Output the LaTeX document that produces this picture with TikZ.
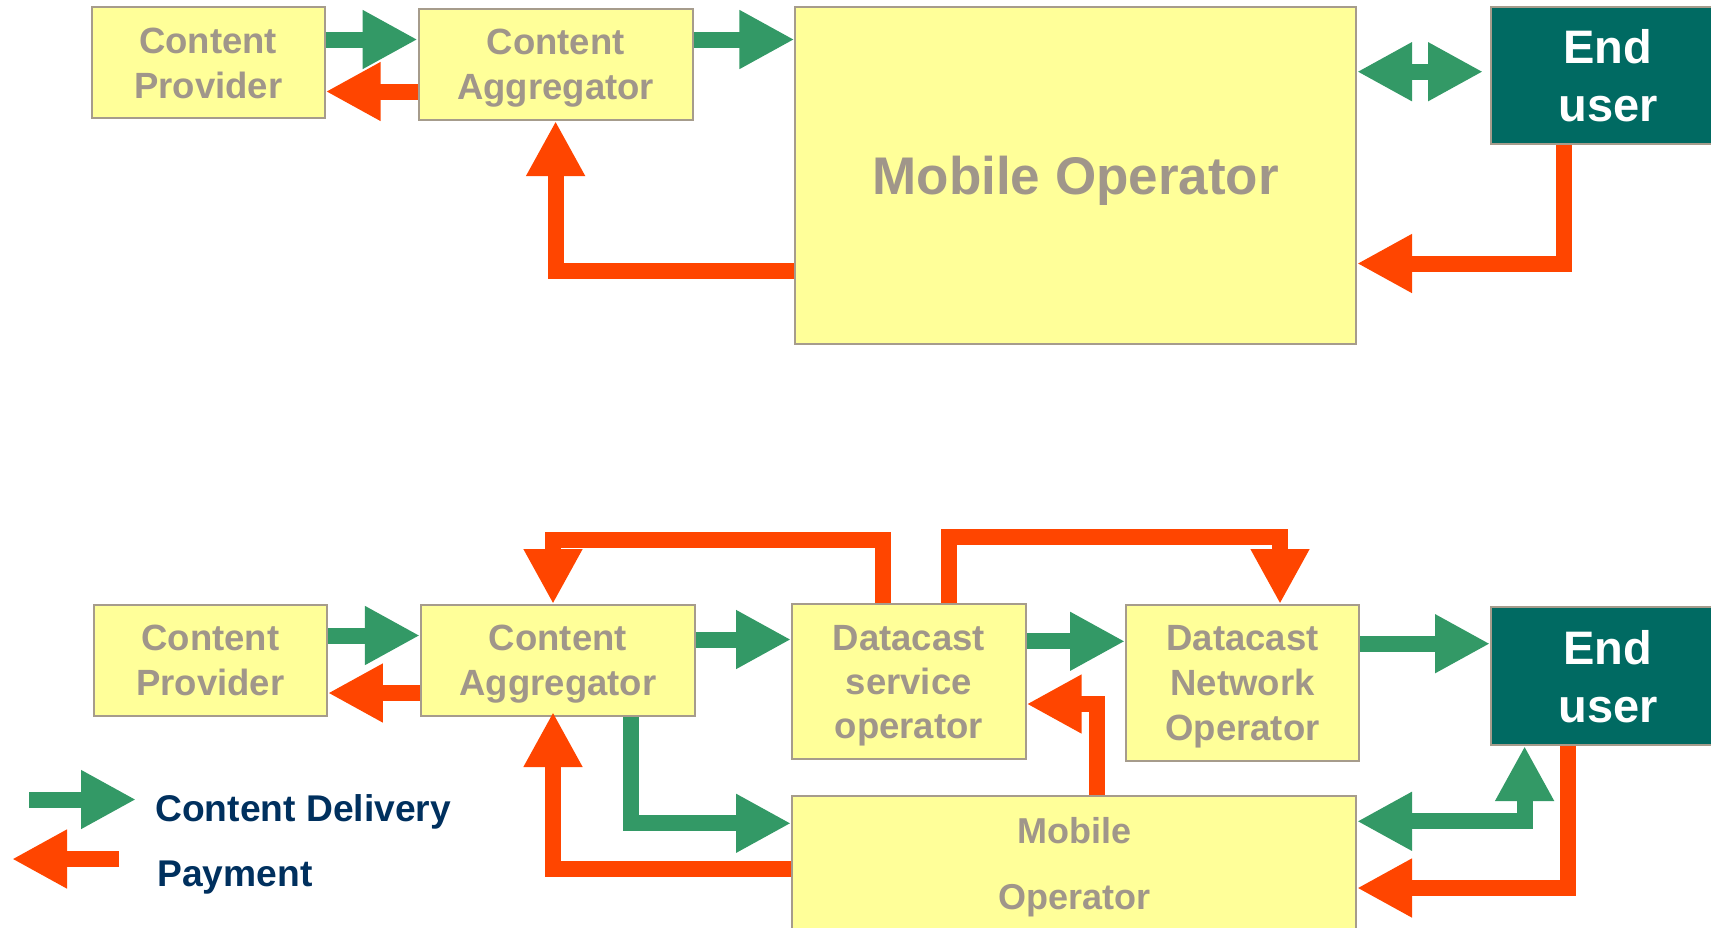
\documentclass[tikz,border=0pt]{standalone}
\usepackage{fontspec}
\setmainfont{Liberation Sans}
\usetikzlibrary{arrows.meta,calc}
\definecolor{boxfill}{HTML}{FFFF99}
\definecolor{boxline}{HTML}{A69C8C}
\definecolor{txt}{HTML}{A0968A}
\definecolor{dgreen}{HTML}{339966}
\definecolor{dred}{HTML}{FF4500}
\definecolor{eufill}{HTML}{006A62}
\definecolor{navy}{HTML}{00305E}
\tikzset{
  bigtri/.tip={Triangle[length=27.5pt,width=27.5pt]},
  box/.style={draw=boxline, line width=1pt, fill=boxfill, text=txt, align=center, inner sep=0pt,
    text depth=0pt, font=\bfseries\fontsize{18.25}{22.5}\selectfont},
  eubox/.style={draw=boxline, line width=1pt, fill=eufill, text=white, align=center, inner sep=0pt,
    text depth=0pt, font=\bfseries\fontsize{23.5}{29}\selectfont},
  deliv/.style={draw=dgreen, line width=8pt, -bigtri},
  pay/.style={draw=dred, line width=8pt, -bigtri},
  legtext/.style={text=navy, inner sep=0pt, font=\bfseries\fontsize{18.6}{22}\selectfont},
}
\begin{document}
\begin{tikzpicture}[x=0.5pt,y=-0.5pt]
\useasboundingbox (0,0) rectangle (1711,927);
\clip (0,0) rectangle (1711,927);

% ---------- top diagram ----------
\node[box, minimum width=116.5pt, minimum height=55.5pt] (cp1) at (208.2,62.8) {Content\\Provider};
\node[box, minimum width=137pt, minimum height=55.5pt] (ca1) at (555.6,64.5) {Content\\Aggregator};
\node[box, font=\bfseries\fontsize{26.5}{32}\selectfont, minimum width=280.3pt, minimum height=168.4pt] (mo1) at (1075.7,175.7) {Mobile Operator};
\node[eubox, minimum width=117pt, minimum height=68.4pt] (eu1) at (1608,75.7) {End\\user};

\draw[deliv] (cp1.east |- 0,39.5) -- (ca1.west |- 0,39.5);
\draw[pay] (ca1.west |- 0,91.5) -- (cp1.east |- 0,91.5);
\draw[deliv] (ca1.east |- 0,39.5) -- (mo1.west |- 0,39.5);
\draw[pay] (mo1.west |- 0,271.3) -| (ca1.south);
\draw[draw=dgreen, line width=8pt, bigtri-bigtri, shorten >=3.5pt] (mo1.east |- 0,71.7) -- (eu1.west |- 0,71.7);
\draw[pay] (eu1.south -| 1564,0) |- (mo1.east |- 0,263.5);

% ---------- bottom diagram ----------
\node[box, minimum width=116.5pt, minimum height=55.5pt] (cp2) at (210.4,660.5) {Content\\Provider};
\node[box, minimum width=137pt, minimum height=55.5pt] (ca2) at (557.9,660.5) {Content\\Aggregator};
\node[box, font=\bfseries\fontsize{18.25}{22}\selectfont, minimum width=116.8pt, minimum height=77.6pt] (dso) at (908.8,681.7) {Datacast\\service\\operator};
\node[box, font=\bfseries\fontsize{18.25}{22.5}\selectfont, minimum width=116.5pt, minimum height=78pt] (dno) at (1242.5,683) {Datacast\\Network\\Operator};
\node[eubox, minimum width=117pt, minimum height=69pt] (eu2) at (1608,676) {End\\user};
\node[box, font=\bfseries\fontsize{18}{33}\selectfont, minimum width=282pt, minimum height=67pt] (mo2) at (1074,863) {Mobile\\Operator};

\draw[deliv] (cp2.east |- 0,635.5) -- (ca2.west |- 0,635.5);
\draw[pay] (ca2.west |- 0,693) -- (cp2.east |- 0,693);
\draw[deliv] (ca2.east |- 0,639.5) -- (dso.west |- 0,639.5);
\draw[pay] (dso.north -| 883,0) -- (883,539.5) -| (ca2.north -| 553,0);
\draw[pay] (dso.north -| 949,0) -- (949,537) -| (dno.north -| 1280,0);
\draw[deliv] (dso.east |- 0,641.3) -- (dno.west |- 0,641.3);
\draw[pay] (mo2.north -| 1097,0) |- (dso.east |- 0,704);
\draw[deliv] (dno.east |- 0,643.7) -- (eu2.west |- 0,643.7);
\draw[deliv] (ca2.south -| 631,0) |- (mo2.west |- 0,823.3);
\draw[pay] (mo2.west |- 0,868.8) -| (553,712);
\draw[draw=dgreen, line width=8pt, bigtri-bigtri] (mo2.east |- 0,821.3) -- (1524.6,821.3) -- (eu2.south -| 1524.6,0);
\draw[pay] (eu2.south -| 1568,0) |- (mo2.east |- 0,888);

% ---------- legend ----------
\coordinate (lgds) at (29,799.5);
\coordinate (lgde) at (136,799.5);
\draw[deliv] (lgds) -- (lgde);
\node[legtext, anchor=base west] (lgtxt1) at (155,821.7) {Content Delivery};
\coordinate (lgps) at (119,859);
\coordinate (lgpe) at (12,859);
\draw[pay] (lgps) -- (lgpe);
\node[legtext, anchor=base west] (lgtxt2) at (157,886) {Payment};
\end{tikzpicture}
\end{document}
